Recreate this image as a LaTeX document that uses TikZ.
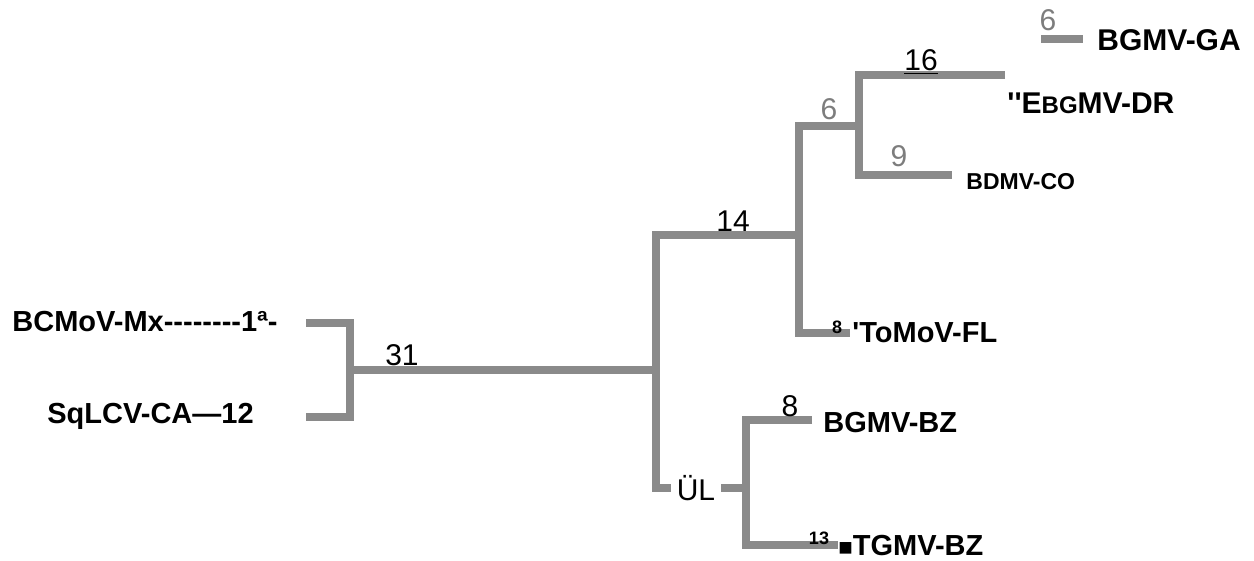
\documentclass[tikz,border=0pt]{standalone}
\usepackage{fontspec}
\newfontfamily\arialf{Liberation Sans}
\usepackage{tikz}

\definecolor{treegray}{RGB}{138,138,138}
\definecolor{numgray}{RGB}{125,125,125}
\tikzset{
  branch/.style={draw=treegray, line width=3.6pt},
  taxon/.style={font=\arialf\bfseries\fontsize{14.5}{14.5}\selectfont, inner sep=0pt, anchor=west},
  blen/.style={font=\arialf\fontsize{15}{15}\selectfont, inner sep=0pt},
  blengray/.style={blen, text=numgray},
  tiny/.style={font=\arialf\bfseries\fontsize{9}{9}\selectfont, inner sep=0pt}
}

\begin{document}
\begin{tikzpicture}[x=0.5pt,y=-0.5pt]
\useasboundingbox[fill=white] (0,0) rectangle (1254,561);
% inner nodes of the tree
\coordinate (r31) at (350,370);
\coordinate (n31) at (656,370);
\coordinate (n14) at (799,235);
\coordinate (n6) at (859,126);
\coordinate (nul) at (746,488);
% tips
\coordinate (bcmov) at (306,323);
\coordinate (sqlcv) at (306,417);
\coordinate (dr) at (1005,75);
\coordinate (co) at (952,175);
\coordinate (fl) at (850,333);
\coordinate (bz) at (812,420);
\coordinate (tg) at (838,545);
\coordinate (ga0) at (1041,39);
\coordinate (ga) at (1083,39);
% branches
\draw[branch] (bcmov) -| (r31) |- (sqlcv);
\draw[branch] (r31) -- (n31);
\draw[branch] (n14) -| (n31) |- (nul);
\draw[branch] (n6) -| (n14) |- (fl);
\draw[branch] (dr) -| (n6) |- (co);
\draw[branch] (bz) -| (nul) |- (tg);
\draw[branch] (ga0) -- (ga);
% branch lengths
\node[blen] (l31) at (402,355) {31};
\node[blen] (l14) at (733,221) {14};
\node[blengray] (l6a) at (829,109) {6};
\node[blengray] (l9) at (899,156) {9};
\node[blen] (l16) at (921,62) {\underline{16}};
\node[blengray] (l6b) at (1048,20) {6};
\node[blen] (l8) at (790,406) {8};
\node[blen,fill=white,inner xsep=3pt] (lul) at (696,488) {ÜL};
\node[tiny] (l8b) at (837,327) {8};
\node[tiny] (l13) at (819,538) {13};
% taxa
\node[taxon,font=\arialf\bfseries\fontsize{15}{15}\selectfont] (tga) at (1097,40) {BGMV-GA};
\node[taxon,font=\arialf\bfseries\fontsize{15}{15}\selectfont] (tdr) at (1007,103) {''E{\fontsize{12}{12}\selectfont BG}MV-DR};
\node[taxon,font=\arialf\bfseries\fontsize{11.5}{11.5}\selectfont] (tco) at (966,182) {BDMV-CO};
\node[taxon] (tfl) at (852,333) {'ToMoV-FL};
\node[taxon] (tbcm) at (12,322) {BCMoV-Mx--------1ª-};
\node[taxon] (tsq) at (47,416) {SqLCV-CA—12};
\node[taxon] (tbz) at (823,423) {BGMV-BZ};
\node[taxon] (ttg) at (838,546) {{\fontsize{12}{12}\selectfont ■}TGMV-BZ};
\end{tikzpicture}
\end{document}
